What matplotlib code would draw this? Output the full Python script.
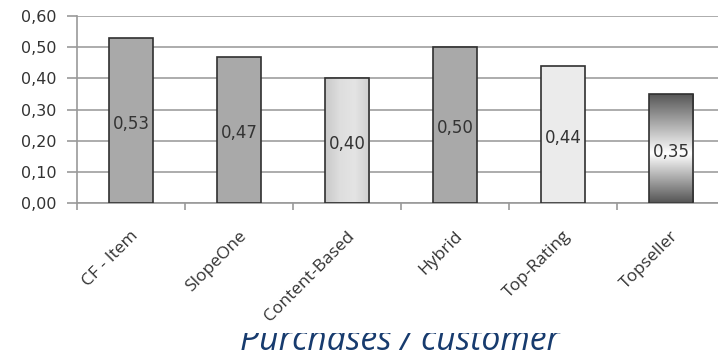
import numpy as np
import matplotlib
matplotlib.use('Agg')
import matplotlib.pyplot as plt
from matplotlib.patches import Rectangle
from matplotlib.transforms import ScaledTranslation

# данные: методы рекомендаций и покупки на клиента
methods = ['CF - Item', 'SlopeOne', 'Content-Based', 'Hybrid', 'Top-Rating', 'Topseller']
values = [0.53, 0.47, 0.40, 0.50, 0.44, 0.35]
y_ticks = [0.0, 0.1, 0.2, 0.3, 0.4, 0.5, 0.6]

fig = plt.figure(figsize=(7.18, 3.56), dpi=100)
# область графика уходит за правый край, как на слайде
ax = fig.add_axes([77 / 718, 1 - 203 / 356, 648 / 718, 187 / 356])

x = np.arange(len(methods))
fills = ['#a9a9a9', '#a9a9a9', 'none', '#a9a9a9', '#ebebeb', 'none']
bars = ax.bar(x, values, width=0.41, color=fills, edgecolor='#303030', linewidth=1.2, zorder=3)

# градиент слева направо для Content-Based
grad_h = np.linspace(0, 1, 64).reshape(1, -1)
b = bars[2]
im = ax.imshow(grad_h, cmap=matplotlib.colors.LinearSegmentedColormap.from_list('h', ['#c9c9c9', '#dedede', '#e4e4e4', '#cfcfcf']),
               extent=[b.get_x(), b.get_x() + b.get_width(), 0, b.get_height()],
               aspect='auto', origin='lower', zorder=2.5)
im.set_clip_path(b)

# вертикальный градиент для Topseller: темный сверху и снизу, белый в середине
grad_v = np.linspace(0, 1, 128).reshape(-1, 1)
b = bars[5]
im = ax.imshow(grad_v, cmap=matplotlib.colors.LinearSegmentedColormap.from_list('v', [(0, '#555555'), (0.45, '#ffffff'), (1, '#555555')]),
               extent=[b.get_x(), b.get_x() + b.get_width(), 0, b.get_height()],
               aspect='auto', origin='lower', zorder=2.5)
im.set_clip_path(b)

# подписи значений в центре столбцов
for xi, v in zip(x, values):
    ax.text(xi, v / 2 - 0.01, f'{v:.2f}'.replace('.', ','), ha='center', va='center',
            fontsize=12, color='#333333', zorder=4)

ax.set_xlim(-0.5, len(methods) - 0.5)
ax.set_ylim(0, 0.6)
ax.set_yticks(y_ticks)
ax.set_yticklabels([f'{t:.2f}'.replace('.', ',') for t in y_ticks], fontsize=11.5, color='#333333')
ax.set_xticks(x)
ax.set_xticklabels(methods, rotation=45, ha='right', va='center', rotation_mode='anchor',
                   fontsize=12.5, family='Open Sans', color='#333333')
ax.tick_params(axis='x', length=0, pad=22)
for lbl in ax.get_xticklabels():
    lbl.set_transform(lbl.get_transform() + ScaledTranslation(5 / 100, 0, fig.dpi_scale_trans))
ax.set_xticks(np.arange(len(methods)) - 0.5, minor=True)
ax.tick_params(axis='x', which='minor', length=5, color='#999999', width=1.2)
ax.tick_params(axis='y', length=7, color='#999999', width=1.2, pad=8)

ax.grid(axis='y', color='#a6a6a6', linewidth=1.3, zorder=0)
ax.set_axisbelow(True)
for side in ['top', 'right']:
    ax.spines[side].set_visible(False)
for side in ['left', 'bottom']:
    ax.spines[side].set_color('#999999')
    ax.spines[side].set_linewidth(1.2)

# заголовок снизу, верхняя часть закрыта белой полосой
fig.text(400 / 718, 6 / 356, 'Purchases / customer', ha='center', va='baseline',
         fontsize=24.3, style='italic', family='Open Sans', color='#173b6e', zorder=-2)
fig.patches.append(Rectangle((0, 23 / 356), 1, 20 / 356, transform=fig.transFigure,
                             facecolor='white', edgecolor='none', zorder=-1))

fig.savefig('out.png', dpi=100)
